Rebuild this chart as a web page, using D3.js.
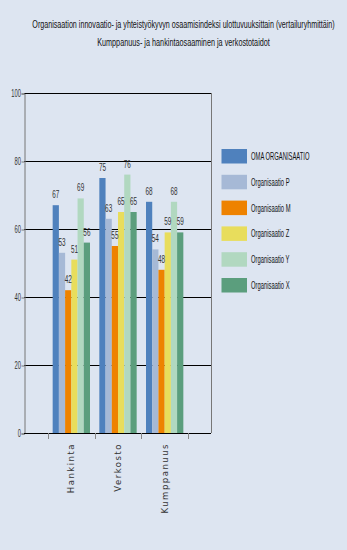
<!DOCTYPE html>
<html><head><meta charset="utf-8">
<script src="https://cdn.jsdelivr.net/npm/d3@7"></script>
<style>body{margin:0;background:#DDE5F1;}svg{display:block;}</style>
</head><body>
<script>
const titleLines = ["Organisaation innovaatio- ja yhteistyökyvyn osaamisindeksi ulottuvuuksittain (vertailuryhmittäin)",
                    "Kumppanuus- ja hankintaosaaminen ja verkostotaidot"];
const categories = ["Hankinta", "Verkosto", "Kumppanuus"];
const seriesNames = ["OMA ORGANISAATIO", "Organisaatio P", "Organisaatio M", "Organisaatio Z", "Organisaatio Y", "Organisaatio X"];
const seriesColors = ["#4F81BD", "#A6B9D6", "#EE8200", "#E8DD5C", "#B1D8C0", "#5B9E7D"];
const valOma = [67, 75, 68];
const valP = [53, 63, 54];
const valM = [42, 55, 48];
const valZ = [51, 65, 59];
const valY = [69, 76, 68];
const valX = [56, 65, 59];
const seriesValues = [valOma, valP, valM, valZ, valY, valX];
const yTicks = [0, 20, 40, 60, 80, 100];

const W = 347, H = 550;
const svg = d3.select("body").append("svg").attr("width", W).attr("height", H);
svg.append("rect").attr("width", W).attr("height", H).attr("fill", "#DDE5F1");

const plotL = 24, plotR = 211, plotT = 93, plotB = 433;
const y = d3.scaleLinear().domain([0, 100]).range([plotB, plotT]);
const x0 = d3.scaleBand().domain(categories).range([48, 188]).paddingInner(0.2).paddingOuter(0.1);
const x1 = d3.scaleBand().domain(seriesNames).range([0, x0.bandwidth()]);

function condText(g, x, yy, txt, size, sx, anchor, fill) {
  return g.append("text")
    .attr("transform", `translate(${x},${yy}) scale(${sx},1)`)
    .attr("text-anchor", anchor)
    .attr("font-family", "Liberation Sans, Arial, sans-serif")
    .attr("font-size", size)
    .attr("fill", fill || "#222")
    .text(txt);
}

// Title (condensed by horizontal scaling to the reference widths)
const tW = [303, 173];
titleLines.forEach((t, i) => {
  const el = condText(svg, 183.5, 28 + i * 18, t, 10.5, 1, "middle", "#111");
  const natural = el.node().getComputedTextLength();
  el.attr("transform", `translate(183.5,${28 + i * 18}) scale(${tW[i] / natural},1)`);
});

// gridlines
svg.append("g").selectAll("line").data(yTicks).join("line")
  .attr("x1", plotL).attr("x2", plotR)
  .attr("y1", d => Math.round(y(d)) + 0.5).attr("y2", d => Math.round(y(d)) + 0.5)
  .attr("stroke", "#000").attr("stroke-width", 1);

// right border
svg.append("line").attr("x1", plotR + 0.5).attr("x2", plotR + 0.5).attr("y1", plotT).attr("y2", plotB)
  .attr("stroke", "#777");

// y axis
const yAxis = d3.axisLeft(y).tickValues(yTicks).tickSize(3).tickFormat("");
const ya = svg.append("g").attr("transform", `translate(${plotL + 0.5},0.5)`).call(yAxis);
ya.select(".domain").attr("stroke", "#777");
ya.selectAll(".tick line").attr("stroke", "#777");
yTicks.forEach(t => condText(svg, 21, y(t) + 3.5, String(t), 10.5, 0.55, "end", "#333"));

// bars
const groups = svg.append("g").selectAll("g").data(categories).join("g")
  .attr("transform", d => `translate(${x0(d)},0)`);
groups.each(function(cat, ci) {
  const g = d3.select(this);
  seriesNames.forEach((s, si) => {
    const v = seriesValues[si][ci];
    g.append("rect").attr("x", x1(s)).attr("width", x1.bandwidth())
      .attr("y", y(v)).attr("height", y(0) - y(v))
      .attr("fill", seriesColors[si]);
  });
  seriesNames.forEach((s, si) => {
    const v = seriesValues[si][ci];
    condText(g, x1(s) + x1.bandwidth() / 2, y(v) - 7, String(v), 11, 0.58, "middle", "#333");
  });
});

// x axis
svg.append("line").attr("x1", plotL).attr("x2", plotR).attr("y1", plotB + 0.5).attr("y2", plotB + 0.5)
  .attr("stroke", "#000");
const bounds = categories.map(c => x0(c) - x0.step() * x0.paddingInner() / 2).concat([188]);
bounds[0] = 48;
svg.append("g").selectAll("line").data(bounds).join("line")
  .attr("x1", d => Math.round(d) + 0.5).attr("x2", d => Math.round(d) + 0.5)
  .attr("y1", plotB).attr("y2", plotB + 6).attr("stroke", "#888");
svg.append("g").selectAll("text").data(categories).join("text")
  .attr("transform", d => `translate(${x0(d) + x0.bandwidth() / 2 + 3},443) rotate(-90)`)
  .attr("text-anchor", "end")
  .attr("font-family", "DejaVu Sans, sans-serif").attr("font-size", 8.5)
  .attr("letter-spacing", 1.5)
  .attr("fill", "#333")
  .text(d => d);

// legend
const lg = svg.append("g");
seriesNames.forEach((s, i) => {
  const yy = 149 + i * 25.8;
  lg.append("rect").attr("x", 221.5).attr("y", yy).attr("width", 25.5).attr("height", 14.5)
    .attr("fill", seriesColors[i]);
  condText(lg, 251, yy + 11, s, 11, 0.53, "start", "#111");
});
</script>
</body></html>
